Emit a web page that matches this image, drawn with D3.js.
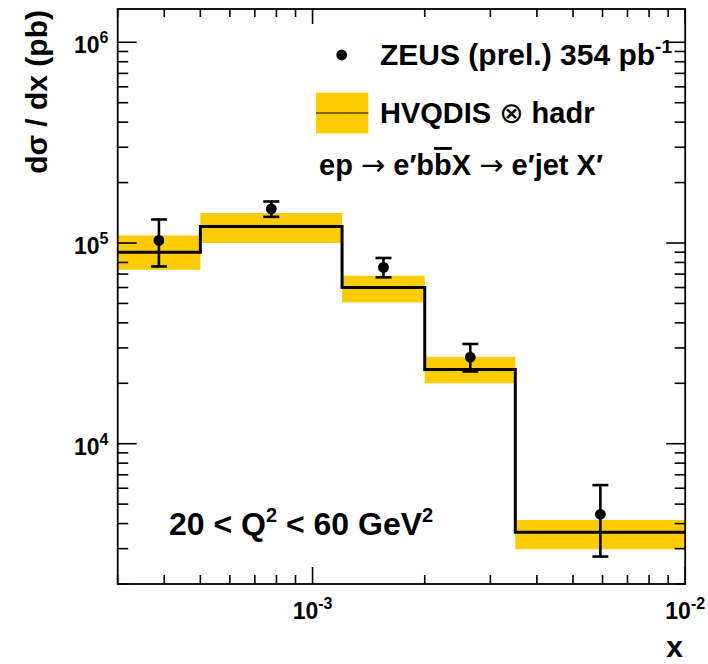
<!DOCTYPE html>
<html>
<head>
<meta charset="utf-8">
<script src="https://cdn.jsdelivr.net/npm/d3@7"></script>
<style>
  html, body { margin: 0; padding: 0; background: #fff; }
  svg { display: block; }
  text { font-family: "Liberation Sans", Arial, Helvetica, sans-serif; font-weight: bold; fill: #000; }
  .sym { font-family: "DejaVu Sans", sans-serif; font-weight: normal; }
</style>
</head>
<body>
<svg id="chart" width="708" height="664"></svg>
<script>
// Bin edges in x and the HVQDIS (x) hadronisation prediction per bin
const binEdges = [3e-4, 5e-4, 1.2e-3, 2e-3, 3.5e-3, 1e-2];
const theory = [9.0e4, 1.21e5, 6.0e4, 2.34e4, 3.62e3];
const theoryHigh = [1.09e5, 1.41e5, 6.87e4, 2.71e4, 4.17e3];
const theoryLow = [7.36e4, 1.0e5, 5.06e4, 2.0e4, 2.98e3];

// ZEUS (prel.) measurement with total uncertainty band ends
const dataX = [3.87e-4, 7.75e-4, 1.55e-3, 2.65e-3, 5.92e-3];
const dataY = [1.03e5, 1.48e5, 7.56e4, 2.70e4, 4.45e3];
const dataHigh = [1.31e5, 1.61e5, 8.42e4, 3.14e4, 6.22e3];
const dataLow = [7.64e4, 1.35e5, 6.74e4, 2.29e4, 2.74e3];

// Axis ranges and labelled decades
const xDomain = [3e-4, 1e-2];
const yDomain = [2000, 1.465e6];
const xMajorExp = [-3, -2];
const yMajorExp = [4, 5, 6];

const frame = { left: 117.7, right: 685.2, top: 9, bottom: 584 };
const svg = d3.select("#chart");

const x = d3.scaleLog().domain(xDomain).range([frame.left, frame.right]);
const y = d3.scaleLog().domain(yDomain).range([frame.bottom, frame.top]);

const yellow = "#ffcc00";

// Prediction uncertainty bands
const bins = theory.map((v, i) => ({
  x0: binEdges[i], x1: binEdges[i + 1], v, hi: theoryHigh[i], lo: theoryLow[i]
}));
svg.append("g").selectAll("rect").data(bins).join("rect")
  .attr("x", d => x(d.x0))
  .attr("width", d => x(d.x1) - x(d.x0))
  .attr("y", d => y(d.hi))
  .attr("height", d => y(d.lo) - y(d.hi))
  .attr("fill", yellow);

// Prediction as a step histogram
const stepPts = [];
bins.forEach(b => { stepPts.push([b.x0, b.v]); stepPts.push([b.x1, b.v]); });
svg.append("path")
  .attr("d", d3.line().x(p => x(p[0])).y(p => y(p[1]))(stepPts))
  .attr("fill", "none").attr("stroke", "#000").attr("stroke-width", 3)
  .attr("stroke-linejoin", "miter");

// Axis ticks: majors at decades, minors at 2..9
function logTicks(domain) {
  const out = [];
  const e0 = Math.floor(Math.log10(domain[0])), e1 = Math.ceil(Math.log10(domain[1]));
  for (let e = e0; e <= e1; e++) {
    for (let m = 1; m <= 9; m++) {
      const v = m * Math.pow(10, e);
      if (v >= domain[0] * 0.9999 && v <= domain[1] * 1.0001) out.push({ v, major: m === 1 });
    }
  }
  return out;
}
const axisG = svg.append("g").attr("stroke", "#000").attr("stroke-width", 1.6);
logTicks(xDomain).forEach(t => {
  const px = x(t.v);
  const len = t.major ? 17 : 9;
  axisG.append("line").attr("x1", px).attr("x2", px).attr("y1", frame.bottom).attr("y2", frame.bottom - len);
  axisG.append("line").attr("x1", px).attr("x2", px).attr("y1", frame.top).attr("y2", frame.top + (t.major ? 15 : 8));
});
logTicks(yDomain).forEach(t => {
  const py = y(t.v);
  const len = t.major ? 19 : 10.5;
  axisG.append("line").attr("x1", frame.left).attr("x2", frame.left + len).attr("y1", py).attr("y2", py);
  axisG.append("line").attr("x1", frame.right).attr("x2", frame.right - len).attr("y1", py).attr("y2", py);
});

// Frame
svg.append("rect")
  .attr("x", frame.left).attr("y", frame.top)
  .attr("width", frame.right - frame.left).attr("height", frame.bottom - frame.top)
  .attr("fill", "none").attr("stroke", "#000").attr("stroke-width", 1.8);

// Data points with error bars
const pts = dataY.map((v, i) => ({ x: dataX[i], v, hi: dataHigh[i], lo: dataLow[i] }));
const pg = svg.append("g").attr("stroke", "#000").attr("stroke-width", 2.6);
pts.forEach(p => {
  const px = x(p.x);
  pg.append("line").attr("x1", px).attr("x2", px).attr("y1", y(p.hi)).attr("y2", y(p.lo));
  pg.append("line").attr("x1", px - 8).attr("x2", px + 8).attr("y1", y(p.hi)).attr("y2", y(p.hi));
  pg.append("line").attr("x1", px - 8).attr("x2", px + 8).attr("y1", y(p.lo)).attr("y2", y(p.lo));
});
svg.append("g").selectAll("circle").data(pts).join("circle")
  .attr("cx", d => x(d.x)).attr("cy", d => y(d.v)).attr("r", 5.4).attr("fill", "#000");

// Tick labels
const labG = svg.append("g");
xMajorExp.forEach(e => {
  const t = labG.append("text").attr("x", x(Math.pow(10, e))).attr("y", 618.5)
    .attr("text-anchor", "middle").attr("font-size", 23);
  t.append("tspan").text("10");
  t.append("tspan").attr("dy", -10).attr("font-size", 16).text(String(e));
});
yMajorExp.forEach(e => {
  const t = labG.append("text").attr("x", 108.5).attr("y", y(Math.pow(10, e)) + 11)
    .attr("text-anchor", "end").attr("font-size", 23);
  t.append("tspan").text("10");
  t.append("tspan").attr("dy", -10).attr("font-size", 16).text(String(e));
});

// Axis titles
svg.append("text").attr("x", 683).attr("y", 657).attr("text-anchor", "end")
  .attr("font-size", 30).text("x");
svg.append("text").attr("transform", "translate(47,10) rotate(-90)")
  .attr("text-anchor", "end").attr("font-size", 30).text("dσ / dx (pb)");

// Legend
const legSize = 29;
svg.append("circle").attr("cx", 341.7).attr("cy", 55).attr("r", 5.4).attr("fill", "#000");
const l1 = svg.append("text").attr("x", 380).attr("y", 65).attr("font-size", 30);
l1.append("tspan").text("ZEUS (prel.) 354 pb");
l1.append("tspan").attr("dy", -12).attr("font-size", 19).text("-1");

svg.append("rect").attr("x", 316).attr("y", 92.7).attr("width", 52.3).attr("height", 40.6).attr("fill", yellow);
svg.append("line").attr("x1", 316).attr("x2", 368.3).attr("y1", 113).attr("y2", 113)
  .attr("stroke", "#000").attr("stroke-width", 1.2);
const l2 = svg.append("text").attr("x", 380).attr("y", 123.3).attr("font-size", legSize);
l2.append("tspan").text("HVQDIS ");
l2.append("tspan").attr("class", "sym").text("⊗");
l2.append("tspan").text(" hadr");

const l3 = svg.append("text").attr("x", 319).attr("y", 175).attr("font-size", legSize);
l3.append("tspan").text("ep ");
l3.append("tspan").attr("class", "sym").text("→");
l3.append("tspan").text(" e′b");
l3.append("tspan").style("text-decoration", "overline").text("b");
l3.append("tspan").text("X ");
l3.append("tspan").attr("class", "sym").text("→");
l3.append("tspan").text(" e′jet X′");

// Kinematic range
const q = svg.append("text").attr("x", 169).attr("y", 535).attr("font-size", 32);
q.append("tspan").text("20 < Q");
q.append("tspan").attr("dy", -13).attr("font-size", 20).text("2");
q.append("tspan").attr("dy", 13).text(" < 60 GeV");
q.append("tspan").attr("dy", -13).attr("font-size", 20).text("2");
</script>
</body>
</html>
